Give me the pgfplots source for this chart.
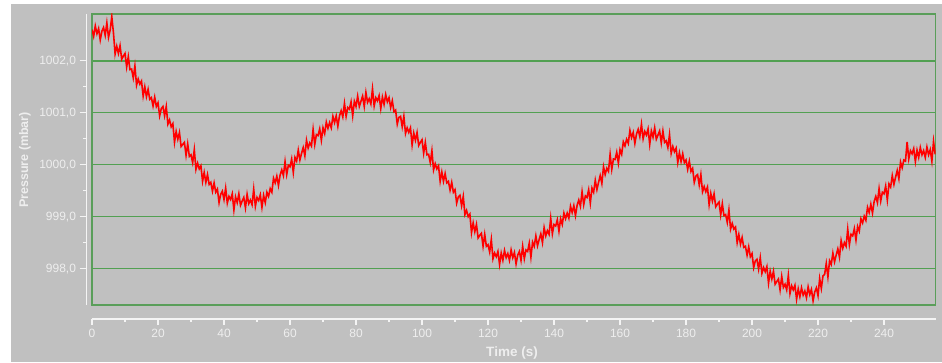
\documentclass[border=0pt]{standalone}
\usepackage{pgfplots}
\pgfplotsset{compat=1.18}
\usepackage{fontspec}
\setmainfont{Liberation Sans}
\definecolor{bg}{HTML}{C0C0C0}
\definecolor{gridlight}{HTML}{52A052}
\definecolor{griddark}{HTML}{1E8A1E}
\definecolor{frame}{HTML}{5A9E5A}
\definecolor{axiswhite}{HTML}{F4F4F4}
\definecolor{labelwhite}{HTML}{EEEEEE}
\begin{document}
\begin{tikzpicture}[x=1pt,y=1pt]
\path[use as bounding box] (0,0) rectangle (942,362);
\fill[white] (0,0) rectangle (942,362);
\fill[bg] (11,0) rectangle (942,358);
\begin{axis}[
  at={(92pt,57pt)}, anchor=south west, scale only axis,
  width=843.5pt, height=291pt,
  xmin=0, xmax=255.6, ymin=997.3, ymax=1002.9,
  axis line style={frame, line width=1.6pt},
  xtick=\empty, ytick={1000,1001,1002}, yticklabels={},
  major tick length=0pt,
  ymajorgrids, major grid style={gridlight, line width=1.5pt},
  extra y ticks={998,999}, extra y tick labels={},
  extra y tick style={grid style={griddark, line width=1.1pt}},
]
\addplot[red, line width=1.6pt] coordinates {
(0,1002.60) (0.5,1002.47) (1,1002.67) (1.5,1002.52) (2,1002.62) (2.5,1002.40) (3,1002.57) (3.5,1002.64) (4,1002.49) (4.5,1002.73)
(5,1002.45) (5.5,1002.59) (6,1002.85) (6.5,1002.54) (7,1002.13) (7.5,1002.28) (8,1002.14) (8.5,1002.29) (9,1002.03) (9.5,1002.09)
(10,1002.14) (10.5,1001.88) (11,1002.08) (11.5,1001.83) (12,1001.84) (12.5,1001.67) (13,1001.90) (13.5,1001.53) (14,1001.65) (14.5,1001.55)
(15,1001.61) (15.5,1001.32) (16,1001.50) (16.5,1001.31) (17,1001.45) (17.5,1001.26) (18,1001.29) (18.5,1001.13) (19,1001.30) (19.5,1001.12)
(20,1001.19) (20.5,1000.94) (21,1001.08) (21.5,1001.12) (22,1000.94) (22.5,1001.12) (23,1000.78) (23.5,1000.86) (24,1000.73) (24.5,1000.79)
(25,1000.43) (25.5,1000.64) (26,1000.49) (26.5,1000.62) (27,1000.35) (27.5,1000.39) (28,1000.43) (28.5,1000.18) (29,1000.40) (29.5,1000.16)
(30,1000.19) (30.5,1000.04) (31,1000.29) (31.5,999.91) (32,1000.03) (32.5,999.92) (33,999.98) (33.5,999.68) (34,999.85) (34.5,999.66)
(35,999.81) (35.5,999.62) (36,999.66) (36.5,999.49) (37,999.65) (37.5,999.47) (38,999.53) (38.5,999.27) (39,999.43) (39.5,999.49)
(40,999.33) (40.5,999.55) (41,999.26) (41.5,999.39) (42,999.33) (42.5,999.44) (43,999.13) (43.5,999.38) (44,999.27) (44.5,999.44)
(45,999.22) (45.5,999.30) (46,999.37) (46.5,999.17) (47,999.43) (47.5,999.25) (48,999.32) (48.5,999.23) (49,999.53) (49.5,999.20)
(50,999.37) (50.5,999.31) (51,999.42) (51.5,999.18) (52,999.41) (52.5,999.27) (53,999.47) (53.5,999.39) (54,999.54) (54.5,999.47)
(55,999.74) (55.5,999.65) (56,999.78) (56.5,999.60) (57,999.80) (57.5,999.90) (58,999.79) (58.5,1000.06) (59,999.81) (59.5,999.99)
(60,999.96) (60.5,1000.11) (61,999.85) (61.5,1000.14) (62,1000.07) (62.5,1000.28) (63,1000.09) (63.5,1000.22) (64,1000.33) (64.5,1000.17)
(65,1000.47) (65.5,1000.32) (66,1000.42) (66.5,1000.36) (67,1000.68) (67.5,1000.39) (68,1000.58) (68.5,1000.56) (69,1000.69) (69.5,1000.47)
(70,1000.71) (70.5,1000.60) (71,1000.82) (71.5,1000.70) (72,1000.81) (72.5,1000.71) (73,1000.93) (73.5,1000.81) (74,1000.94) (74.5,1000.74)
(75,1000.94) (75.5,1001.04) (76,1000.92) (76.5,1001.18) (77,1000.93) (77.5,1001.10) (78,1001.07) (78.5,1001.21) (79,1000.94) (79.5,1001.22)
(80,1001.12) (80.5,1001.32) (81,1001.12) (81.5,1001.22) (82,1001.32) (82.5,1001.12) (83,1001.39) (83.5,1001.20) (84,1001.27) (84.5,1001.17)
(85,1001.46) (85.5,1001.13) (86,1001.29) (86.5,1001.23) (87,1001.33) (87.5,1001.08) (88,1001.30) (88.5,1001.16) (89,1001.35) (89.5,1001.21)
(90,1001.29) (90.5,1001.10) (91,1001.23) (91.5,1001.02) (92,1001.05) (92.5,1000.78) (93,1000.91) (93.5,1000.93) (94,1000.73) (94.5,1000.93)
(95,1000.60) (95.5,1000.71) (96,1000.62) (96.5,1000.71) (97,1000.38) (97.5,1000.61) (98,1000.47) (98.5,1000.62) (99,1000.37) (99.5,1000.43)
(100,1000.48) (100.5,1000.22) (101,1000.43) (101.5,1000.19) (102,1000.20) (102.5,1000.04) (103,1000.27) (103.5,999.90) (104,1000.02) (104.5,999.92)
(105,999.98) (105.5,999.68) (106,999.86) (106.5,999.68) (107,999.83) (107.5,999.65) (108,999.68) (108.5,999.51) (109,999.66) (109.5,999.47)
(110,999.52) (110.5,999.26) (111,999.38) (111.5,999.41) (112,999.21) (112.5,999.39) (113,999.04) (113.5,999.12) (114,999.00) (114.5,999.05)
(115,998.69) (115.5,998.88) (116,998.71) (116.5,998.85) (117,998.59) (117.5,998.64) (118,998.68) (118.5,998.43) (119,998.66) (119.5,998.43)
(120,998.46) (120.5,998.32) (121,998.56) (121.5,998.19) (122,998.30) (122.5,998.23) (123,998.33) (123.5,998.08) (124,998.30) (124.5,998.16)
(125,998.35) (125.5,998.21) (126,998.29) (126.5,998.16) (127,998.36) (127.5,998.21) (128,998.31) (128.5,998.09) (129,998.26) (129.5,998.33)
(130,998.16) (130.5,998.43) (131,998.19) (131.5,998.36) (132,998.33) (132.5,998.49) (133,998.22) (133.5,998.51) (134,998.43) (134.5,998.63)
(135,998.44) (135.5,998.56) (136,998.67) (136.5,998.50) (137,998.79) (137.5,998.63) (138,998.73) (138.5,998.66) (139,998.97) (139.5,998.67)
(140,998.85) (140.5,998.82) (141,998.94) (141.5,998.72) (142,998.96) (142.5,998.85) (143,999.07) (143.5,998.96) (144,999.07) (144.5,998.97)
(145,999.20) (145.5,999.08) (146,999.21) (146.5,999.02) (147,999.22) (147.5,999.32) (148,999.20) (148.5,999.48) (149,999.23) (149.5,999.40)
(150,999.37) (150.5,999.52) (151,999.26) (151.5,999.55) (152,999.47) (152.5,999.70) (153,999.52) (153.5,999.66) (154,999.79) (154.5,999.64)
(155,999.96) (155.5,999.81) (156,999.93) (156.5,999.87) (157,1000.20) (157.5,999.91) (158,1000.11) (158.5,1000.10) (159,1000.24) (159.5,1000.03)
(160,1000.29) (160.5,1000.20) (161,1000.44) (161.5,1000.36) (162,1000.49) (162.5,1000.41) (163,1000.66) (163.5,1000.52) (164,1000.62) (164.5,1000.41)
(165,1000.59) (165.5,1000.68) (166,1000.54) (166.5,1000.78) (167,1000.50) (167.5,1000.64) (168,1000.57) (168.5,1000.69) (169,1000.39) (169.5,1000.65)
(170,1000.53) (170.5,1000.71) (171,1000.49) (171.5,1000.57) (172,1000.65) (172.5,1000.42) (173,1000.65) (173.5,1000.43) (174,1000.46) (174.5,1000.33)
(175,1000.58) (175.5,1000.22) (176,1000.35) (176.5,1000.25) (177,1000.32) (177.5,1000.04) (178,1000.23) (178.5,1000.06) (179,1000.21) (179.5,1000.04)
(180,1000.09) (180.5,999.91) (181,1000.07) (181.5,999.87) (182,999.93) (182.5,999.66) (183,999.78) (183.5,999.81) (184,999.61) (184.5,999.81)
(185,999.48) (185.5,999.58) (186,999.48) (186.5,999.57) (187,999.23) (187.5,999.45) (188,999.30) (188.5,999.44) (189,999.19) (189.5,999.24)
(190,999.28) (190.5,999.03) (191,999.25) (191.5,999.02) (192,999.04) (192.5,998.89) (193,999.13) (193.5,998.76) (194,998.87) (194.5,998.76)
(195,998.80) (195.5,998.50) (196,998.66) (196.5,998.47) (197,998.60) (197.5,998.41) (198,998.43) (198.5,998.26) (199,998.42) (199.5,998.23)
(200,998.29) (200.5,998.02) (201,998.15) (201.5,998.18) (202,997.99) (202.5,998.21) (203,997.91) (203.5,998.02) (204,997.94) (204.5,998.04)
(205,997.72) (205.5,997.95) (206,997.80) (206.5,997.95) (207,997.70) (207.5,997.75) (208,997.80) (208.5,997.59) (209,997.85) (209.5,997.64)
(210,997.70) (210.5,997.59) (211,997.87) (211.5,997.52) (212,997.67) (212.5,997.59) (213,997.68) (213.5,997.41) (214,997.61) (214.5,997.46)
(215,997.63) (215.5,997.49) (216,997.57) (216.5,997.44) (217,997.65) (217.5,997.50) (218,997.60) (218.5,997.38) (219,997.55) (219.5,997.63)
(220,997.48) (220.5,997.81) (221,997.62) (221.5,997.86) (222,997.89) (222.5,998.10) (223,997.84) (223.5,998.15) (224,998.08) (224.5,998.30)
(225,998.13) (225.5,998.26) (226,998.38) (226.5,998.22) (227,998.54) (227.5,998.39) (228,998.50) (228.5,998.43) (229,998.76) (229.5,998.46)
(230,998.66) (230.5,998.63) (231,998.77) (231.5,998.55) (232,998.81) (232.5,998.72) (233,998.96) (233.5,998.88) (234,999.01) (234.5,998.93)
(235,999.18) (235.5,999.08) (236,999.24) (236.5,999.07) (237,999.29) (237.5,999.39) (238,999.27) (238.5,999.54) (239,999.30) (239.5,999.47)
(240,999.44) (240.5,999.59) (241,999.32) (241.5,999.63) (242,999.57) (242.5,999.79) (243,999.62) (243.5,999.76) (244,999.89) (244.5,999.73)
(245,1000.05) (245.5,999.94) (246,1000.09) (246.5,1000.07) (247,1000.44) (247.5,1000.11) (248,1000.27) (248.5,1000.21) (249,1000.31) (249.5,1000.06)
(250,1000.28) (250.5,1000.14) (251,1000.33) (251.5,1000.19) (252,1000.27) (252.5,1000.14) (253,1000.34) (253.5,1000.19) (254,1000.29) (254.5,1000.07)
(255,1000.45) (255.5,1000.20)
};
\end{axis}
\begin{axis}[
  at={(92pt,43pt)}, anchor=south west, scale only axis,
  width=843.5pt, height=10pt,
  xmin=0, xmax=255.6, ymin=0, ymax=1,
  axis x line*=bottom, axis y line=none, ytick=\empty,
  x axis line style={axiswhite, line width=1.3pt},
  xtick={0,20,...,240}, minor x tick num=1,
  tick align=outside, major tick length=6pt, minor tick length=3pt,
  every tick/.style={axiswhite, line width=1.3pt},
  xticklabel style={labelwhite, font=\fontsize{12}{13}\selectfont, yshift=-1pt},
  /pgf/number format/assume math mode=true,
]
\end{axis}
\begin{axis}[
  at={(86.5pt,57pt)}, anchor=south west, scale only axis,
  width=1pt, height=291pt,
  xmin=0, xmax=1, ymin=997.3, ymax=1002.9,
  axis y line*=left, axis x line=none, xtick=\empty,
  y axis line style={axiswhite, line width=1.3pt},
  ytick={998,999,1000,1001,1002}, minor y tick num=1,
  tick align=outside, major tick length=7pt, minor tick length=3.5pt,
  every tick/.style={axiswhite, line width=1.3pt},
  yticklabel style={labelwhite, font=\fontsize{12}{13}\selectfont},
  /pgf/number format/fixed, /pgf/number format/fixed zerofill,
  /pgf/number format/precision=1, /pgf/number format/use comma,
  /pgf/number format/1000 sep={}, /pgf/number format/assume math mode=true,
]
\end{axis}
\node[rotate=90, labelwhite, font=\bfseries\fontsize{12.5}{13}\selectfont] at (25,202) {Pressure (mbar)};
\node[labelwhite, font=\bfseries\fontsize{13.5}{14}\selectfont] at (512,8.5) {Time (s)};
\end{tikzpicture}
\end{document}
